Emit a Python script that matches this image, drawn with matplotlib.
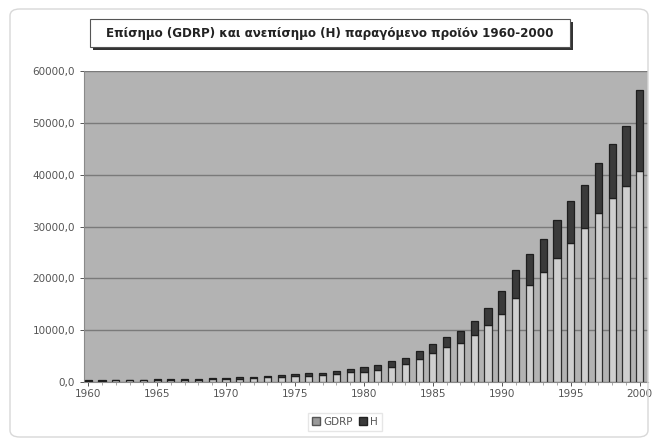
import matplotlib
matplotlib.use("Agg")
import matplotlib.pyplot as plt
from matplotlib.patches import FancyBboxPatch, Rectangle, Patch
from matplotlib.ticker import FuncFormatter, MultipleLocator

years = list(range(1960, 2001))
gdrp = [250, 270, 290, 310, 340, 370, 400, 430, 470, 540,
        600, 660, 750, 880, 1000, 1100, 1250, 1300, 1450, 1900,
        2000, 2300, 2800, 3500, 4500, 5600, 6700, 7600, 9000, 11000,
        13200, 16200, 18800, 21300, 24000, 26800, 29700, 32700, 35500, 37800,
        40800]
h = [90, 95, 100, 105, 110, 120, 130, 140, 150, 170,
     190, 210, 240, 280, 320, 360, 450, 500, 600, 700,
     850, 900, 1300, 1200, 1500, 1700, 2000, 2200, 2800, 3200,
     4300, 5400, 5900, 6200, 7300, 8200, 8400, 9600, 10500, 11500,
     15600]
title = "Επίσημο (GDRP) και ανεπίσημο (H) παραγόμενο προϊόν 1960-2000"
series_names = ["GDRP", "H"]

W, H = 658, 443
fig = plt.figure(figsize=(W / 100, H / 100), dpi=100)
fig.patch.set_facecolor("white")

# outer chart border
fig.patches.append(FancyBboxPatch((10 / W, 6 / H), 638 / W, 428 / H,
                                  boxstyle="round,pad=0,rounding_size=0.015",
                                  transform=fig.transFigure, fill=False,
                                  edgecolor="#d8d8d8", linewidth=1.0))

ax = fig.add_axes([84 / W, 1 - 382 / H, 564 / W, 311 / H])
ax.set_facecolor("#b3b3b3")

bw = 0.52
ax.bar(years, gdrp, width=bw, color="#cfcfcf", edgecolor="#2e2e2e",
       linewidth=0.9, zorder=3)
ax.bar(years, h, width=bw, bottom=gdrp, color="#3a3a3a", edgecolor="#1e1e1e",
       linewidth=0.9, zorder=3)

ax.set_xlim(1959.7, 2000.6)
ax.set_ylim(0, 60000)
ax.yaxis.set_major_locator(MultipleLocator(10000))
ax.yaxis.set_major_formatter(FuncFormatter(lambda v, p: f"{v:.1f}".replace(".", ",")))
ax.xaxis.set_major_locator(MultipleLocator(5))
ax.xaxis.set_minor_locator(MultipleLocator(1))
ax.xaxis.set_major_formatter(FuncFormatter(lambda v, p: f"{int(v)}"))
ax.grid(axis="y", color="#7a7a7a", linewidth=1.0, zorder=1)
for s in ["top", "right"]:
    ax.spines[s].set_visible(False)
ax.spines["left"].set_color("#8a8a8a")
ax.spines["bottom"].set_color("#8a8a8a")
ax.tick_params(axis="both", labelsize=7.5, colors="#555555", length=3, width=0.7)
ax.tick_params(axis="x", which="minor", length=2, color="#999999")
ax.tick_params(axis="x", pad=2)

# title box with shadow
tx, ty, tw, th = 90 / W, 1 - 47 / H, 480 / W, 28 / H
fig.patches.append(Rectangle((tx + 3 / W, ty - 3 / H), tw, th, transform=fig.transFigure,
                             facecolor="#333333", edgecolor="none"))
fig.patches.append(Rectangle((tx, ty), tw, th, transform=fig.transFigure,
                             facecolor="white", edgecolor="#555555", linewidth=0.8))
fig.text(tx + tw / 2, ty + th / 2, title, ha="center", va="center",
         fontsize=8.6, fontweight="bold", color="#222222", family="DejaVu Sans")

handles = [Patch(facecolor="#9a9a9a", edgecolor="#555555", label=series_names[0]),
           Patch(facecolor="#3a3a3a", edgecolor="#222222", label=series_names[1])]
leg = fig.legend(handles=handles, loc="center", bbox_to_anchor=(345 / W, 1 - 422 / H),
                 ncol=2, fontsize=7.5, frameon=True, handlelength=0.8, handleheight=0.8,
                 handletextpad=0.3, columnspacing=0.6, borderpad=0.4, fancybox=False)
leg.get_frame().set_edgecolor("#e0e0e0")
for t in leg.get_texts():
    t.set_color("#555555")

fig.savefig("out.png", dpi=100)
